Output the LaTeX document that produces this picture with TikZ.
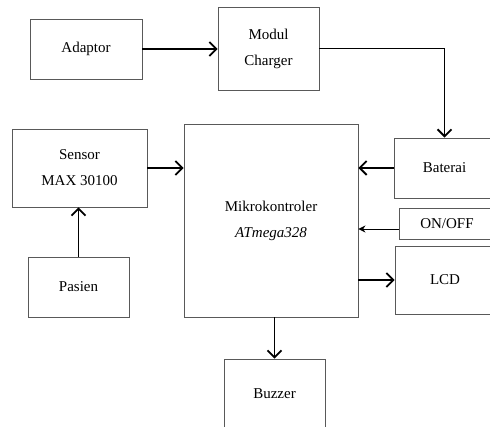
\documentclass[tikz,border=0pt]{standalone}
\usepackage{fontspec}
\setmainfont{Liberation Serif}
\usetikzlibrary{arrows.meta}
\begin{document}
\begin{tikzpicture}[x=1pt,y=-1pt,
  blk/.style={draw=black!65,line width=0.9pt,rectangle,inner sep=0pt,align=center,
    font=\fontsize{15}{26}\selectfont},
  conn/.style={line width=1.8pt,-{Straight Barb[length=7pt,width=14pt,line width=1.8pt]}},
  thinconn/.style={line width=0.9pt,-{Stealth[length=7pt,width=7pt]}}]
\useasboundingbox (0,0) rectangle (490,427);
\clip (0,0) rectangle (490,427);
\fill[white] (0,0) rectangle (490,427);
\node[blk,minimum width=112pt,minimum height=60pt] (adaptor) at (86,49) {Adaptor};
\node[blk,minimum width=101pt,minimum height=83pt] (charger) at (268.5,48.5) {Modul\\Charger};
\node[blk,minimum width=135pt,minimum height=78pt] (sensor) at (79.5,168) {Sensor\\MAX 30100};
\node[blk,minimum width=101pt,minimum height=60pt] (pasien) at (78.5,287) {Pasien};
\node[blk,minimum width=174pt,minimum height=193pt] (mikro) at (271,220.5) {Mikrokontroler\\\textit{ATmega328}};
\node[blk,minimum width=101pt,minimum height=60pt] (baterai) at (444.5,168) {Baterai};
\node[blk,minimum width=96pt,minimum height=31pt] (onoff) at (447,223.5) {ON/OFF};
\node[blk,minimum width=100pt,minimum height=68pt] (lcd) at (445,280) {LCD};
\node[blk,minimum width=101pt,minimum height=70pt] (buzzer) at (274.5,394) {Buzzer};
\coordinate (onoffout) at (onoff.west |- 0,229);
\draw[conn] (adaptor.east) -- (charger.west |- adaptor.east);
\draw[conn] (charger.east) -| (baterai.north);
\draw[conn] (sensor.east) -- (sensor.east -| mikro.west);
\draw[conn] (pasien.north) -- (pasien.north |- sensor.south);
\draw[conn] (baterai.west) -- (baterai.west -| mikro.east);
\draw[thinconn] (onoffout) -- (onoffout -| mikro.east);
\draw[conn] (mikro.east |- lcd.west) -- (lcd.west);
\draw[conn] (mikro.south -| buzzer.north) -- (buzzer.north);
\end{tikzpicture}
\end{document}
